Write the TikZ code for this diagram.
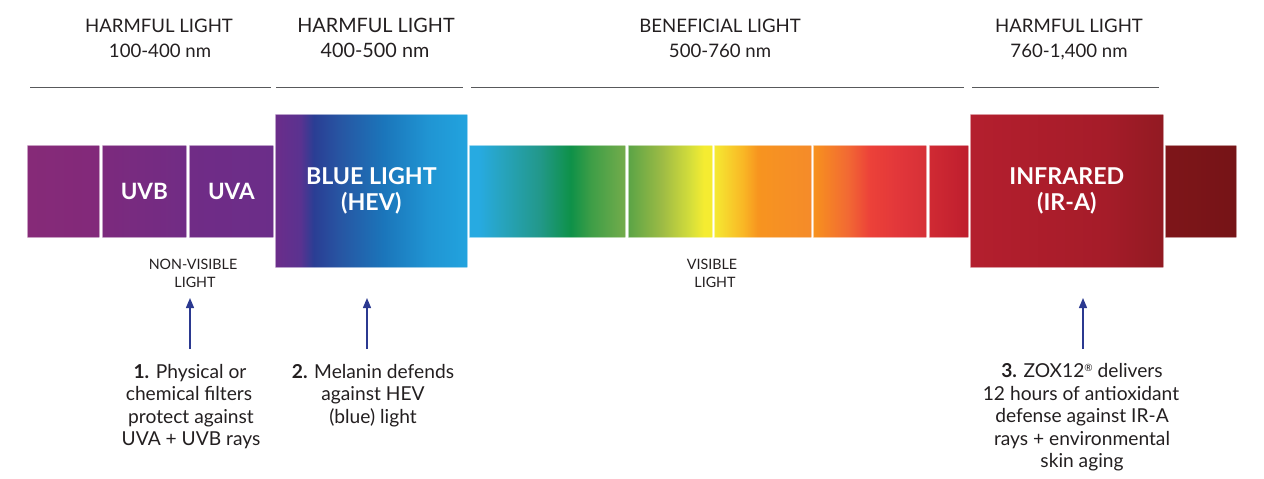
\documentclass[tikz,border=0pt]{standalone}
\usepackage{fontspec}
\setmainfont{Lato}
\usetikzlibrary{arrows.meta}
\definecolor{txt}{HTML}{231F20}
\definecolor{rule}{HTML}{58595B}
\definecolor{arrowblue}{HTML}{2B3990}
% colours of the gradients
\definecolor{pA}{HTML}{862A78}\definecolor{pB}{HTML}{82297A}
\definecolor{uvbA}{HTML}{7C2A7D}\definecolor{uvbB}{HTML}{712C85}
\definecolor{uvaA}{HTML}{702C86}\definecolor{uvaB}{HTML}{6B2D89}
\definecolor{bl0}{HTML}{6B2D8A}\definecolor{bl1}{HTML}{5A3290}\definecolor{bl2}{HTML}{2A3E94}
\definecolor{bl3}{HTML}{2756A3}\definecolor{bl4}{HTML}{1B75BA}\definecolor{bl5}{HTML}{2095D3}\definecolor{bl6}{HTML}{22A3DE}
\definecolor{sa0}{HTML}{27AAE1}\definecolor{sa1}{HTML}{27A4C0}\definecolor{sa2}{HTML}{22988A}
\definecolor{sa3}{HTML}{0E9148}\definecolor{sa4}{HTML}{3E9E47}\definecolor{sa5}{HTML}{74AC4B}
\definecolor{sb0}{HTML}{5BA446}\definecolor{sb1}{HTML}{9DBB45}\definecolor{sb2}{HTML}{D7DF3A}\definecolor{sb3}{HTML}{F5EC31}
\definecolor{sc0}{HTML}{F5E932}\definecolor{sc1}{HTML}{F9B625}\definecolor{sc2}{HTML}{F7941F}\definecolor{sc3}{HTML}{F58B2A}
\definecolor{sd0}{HTML}{F7921E}\definecolor{sd1}{HTML}{F26A33}\definecolor{sd2}{HTML}{EC4139}\definecolor{sd3}{HTML}{E0353A}\definecolor{sd4}{HTML}{D63137}
\definecolor{se0}{HTML}{D02A33}\definecolor{se1}{HTML}{BE1E2E}
\definecolor{ir0}{HTML}{B41F2E}\definecolor{ir1}{HTML}{A51C29}\definecolor{ir2}{HTML}{921A22}
\definecolor{dk0}{HTML}{7E1519}\definecolor{dk1}{HTML}{761417}
\pgfdeclarehorizontalshading{shP}{100bp}{color(0bp)=(pA); color(25bp)=(pA); color(75bp)=(pB); color(100bp)=(pB)}
\pgfdeclarehorizontalshading{shUVB}{100bp}{color(0bp)=(uvbA); color(25bp)=(uvbA); color(75bp)=(uvbB); color(100bp)=(uvbB)}
\pgfdeclarehorizontalshading{shUVA}{100bp}{color(0bp)=(uvaA); color(25bp)=(uvaA); color(75bp)=(uvaB); color(100bp)=(uvaB)}
\pgfdeclarehorizontalshading{shBlue}{100bp}{color(0bp)=(bl0); color(25bp)=(bl0); color(31.5bp)=(bl1); color(35bp)=(bl2); color(42bp)=(bl3); color(53bp)=(bl4); color(65bp)=(bl5); color(75bp)=(bl6); color(100bp)=(bl6)}
\pgfdeclarehorizontalshading{shSA}{100bp}{color(0bp)=(sa0); color(28bp)=(sa0); color(35bp)=(sa1); color(47.5bp)=(sa2); color(57.5bp)=(sa3); color(64bp)=(sa4); color(75bp)=(sa5); color(100bp)=(sa5)}
\pgfdeclarehorizontalshading{shSB}{100bp}{color(0bp)=(sb0); color(25bp)=(sb0); color(45bp)=(sb1); color(62.5bp)=(sb2); color(70bp)=(sb3); color(100bp)=(sb3)}
\pgfdeclarehorizontalshading{shSC}{100bp}{color(0bp)=(sc0); color(25bp)=(sc0); color(40bp)=(sc1); color(47.5bp)=(sc2); color(75bp)=(sc3); color(100bp)=(sc3)}
\pgfdeclarehorizontalshading{shSD}{100bp}{color(0bp)=(sd0); color(25bp)=(sd0); color(40bp)=(sd1); color(50bp)=(sd2); color(65bp)=(sd3); color(75bp)=(sd4); color(100bp)=(sd4)}
\pgfdeclarehorizontalshading{shSE}{100bp}{color(0bp)=(se0); color(25bp)=(se0); color(75bp)=(se1); color(100bp)=(se1)}
\pgfdeclarehorizontalshading{shIR}{100bp}{color(0bp)=(ir0); color(25bp)=(ir0); color(60bp)=(ir1); color(75bp)=(ir2); color(100bp)=(ir2)}
\pgfdeclarehorizontalshading{shDK}{100bp}{color(0bp)=(dk0); color(25bp)=(dk0); color(75bp)=(dk1); color(100bp)=(dk1)}
\begin{document}
\begin{tikzpicture}[x=1pt,y=-1pt,
  band/.style={anchor=north west,inner sep=0pt,draw=white,draw opacity=0.55,line width=0.7pt,
     text=white,align=center,font=\fontsize{22.5}{25}\selectfont\bfseries},
  bigband/.style={band,font=\fontsize{23.2}{25.5}\selectfont\bfseries},
  hdr/.style={anchor=base,inner sep=0pt,text=txt,font=\fontsize{18.6}{20}\selectfont},
  hdrbig/.style={hdr,font=\fontsize{19.8}{22}\selectfont},
  rangerule/.style={draw=rule,line width=1pt},
  small/.style={anchor=base,inner sep=0pt,text=txt,font=\fontsize{14.3}{16}\selectfont},
  body/.style={anchor=base,inner sep=0pt,text=txt,font=\fontsize{19.2}{22}\selectfont},
  arr/.style={draw=arrowblue,line width=1.4pt,-{Triangle[length=10pt,width=8pt]}}]
\useasboundingbox (0,0) rectangle (1264,479);
% headers
\node[hdr] (h1a) at (159,32) {HARMFUL LIGHT};
\node[hdr] (h1b) at (160,57) {100-400 nm};
\node[hdrbig] (h2a) at (376,32) {HARMFUL LIGHT};
\node[hdrbig] (h2b) at (375,57) {400-500 nm};
\node[hdr] (h3a) at (720,32) {BENEFICIAL LIGHT};
\node[hdr] (h3b) at (720,57) {500-760 nm};
\node[hdr] (h4a) at (1069,32) {HARMFUL LIGHT};
\node[hdr] (h4b) at (1069,57) {760-1,400 nm};
% rules
\coordinate (r1s) at (30,87.5); \coordinate (r1e) at (271,87.5);
\coordinate (r2s) at (276,87.5); \coordinate (r2e) at (463,87.5);
\coordinate (r3s) at (471,87.5); \coordinate (r3e) at (964,87.5);
\coordinate (r4s) at (972,87.5); \coordinate (r4e) at (1159,87.5);
\draw[rangerule] (r1s) -- (r1e);
\draw[rangerule] (r2s) -- (r2e);
\draw[rangerule] (r3s) -- (r3e);
\draw[rangerule] (r4s) -- (r4e);
% bands
\node[band,shading=shP,minimum width=72pt,minimum height=92pt] (b1) at (27,145) {};
\node[band,shading=shUVB,minimum width=84pt,minimum height=92pt] (uvb) at (102,145) {UVB};
\node[band,shading=shUVA,minimum width=84pt,minimum height=92pt] (uva) at (189,145) {UVA};
\node[bigband,shading=shBlue,minimum width=192pt,minimum height=153pt] (blue) at (275,114) {BLUE LIGHT\\(HEV)};
\node[band,shading=shSA,minimum width=156pt,minimum height=92pt] (sa) at (469,145) {};
\node[band,shading=shSB,minimum width=84pt,minimum height=92pt] (sb) at (628,145) {};
\node[band,shading=shSC,minimum width=97pt,minimum height=92pt] (sc) at (714,145) {};
\node[band,shading=shSD,minimum width=113pt,minimum height=92pt] (sd) at (813,145) {};
\node[band,shading=shSE,minimum width=39pt,minimum height=92pt] (se) at (929,145) {};
\node[bigband,shading=shIR,minimum width=193pt,minimum height=153pt] (ir) at (970,114) {INFRARED\\(IR-A)};
\node[band,shading=shDK,minimum width=71pt,minimum height=92pt] (dk) at (1165,145) {};
% small labels
\node[small] (nv1) at (193,269) {NON-VISIBLE};
\node[small] (nv2) at (195,287) {LIGHT};
\node[small] (v1) at (712,269) {VISIBLE};
\node[small] (v2) at (715,287) {LIGHT};
% arrows
\coordinate (a1s) at (190,349); \coordinate (a1e) at (190,298);
\coordinate (a2s) at (367,349); \coordinate (a2e) at (367,298);
\coordinate (a3s) at (1083,349); \coordinate (a3e) at (1083,298);
\draw[arr] (a1s) -- (a1e);
\draw[arr] (a2s) -- (a2e);
\draw[arr] (a3s) -- (a3e);
% texts
\node[body] (t11) at (190,378) {\textbf{1.} Physical or};
\node[body] (t12) at (189,400.5) {chemical filters};
\node[body] (t13) at (191,423) {protect against};
\node[body] (t14) at (191,445.5) {UVA + UVB rays};
\node[body] (t21) at (373,378) {\textbf{2.} Melanin defends};
\node[body] (t22) at (373,400.5) {against HEV};
\node[body] (t23) at (373,423) {(blue) light};
\node[body] (t31) at (1082,377.5) {\textbf{3.} ZOX12\raisebox{6.5pt}{\fontsize{10}{10}\selectfont ®}\ delivers};
\node[body] (t32) at (1081,400) {12 hours of antioxidant};
\node[body] (t33) at (1082,422.5) {defense against IR-A};
\node[body] (t34) at (1082,445) {rays + environmental};
\node[body] (t35) at (1082,467.5) {skin aging};
\end{tikzpicture}
\end{document}
